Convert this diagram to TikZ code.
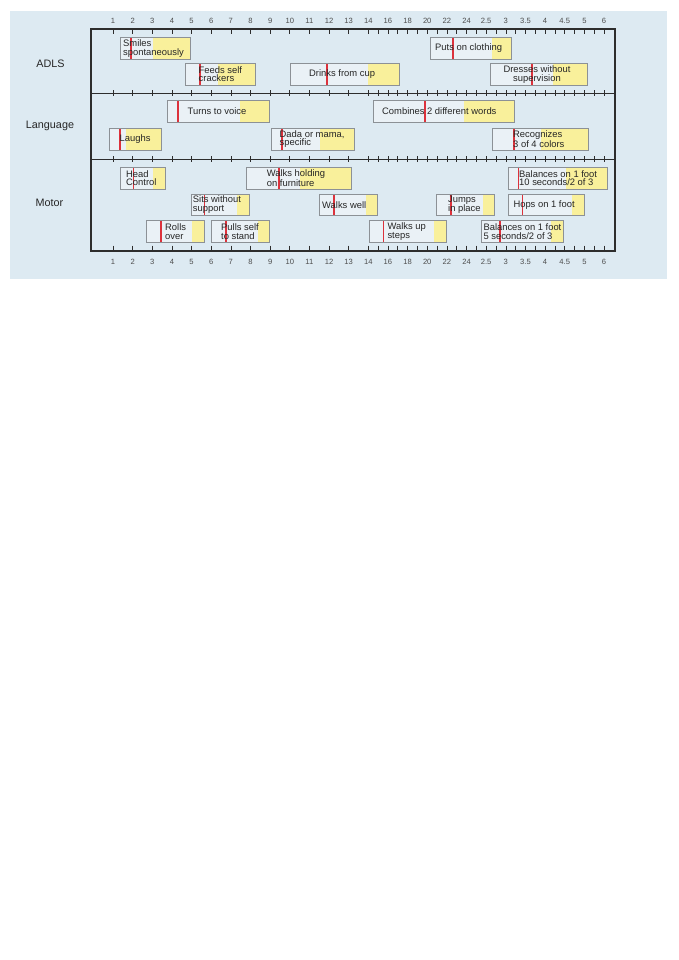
\documentclass[tikz,border=0pt]{standalone}
\usepackage{fontspec}
\setmainfont{Liberation Sans}
\definecolor{chartbg}{RGB}{221,234,242}
\definecolor{barbg}{RGB}{234,241,246}
\definecolor{baryellow}{RGB}{249,240,155}
\definecolor{barred}{RGB}{220,50,60}
\definecolor{bargray}{RGB}{140,145,150}
\definecolor{framegray}{RGB}{45,45,45}
\begin{document}
\begin{tikzpicture}[x=1pt,y=-1pt]
\tikzstyle{every node}+=[inner sep=0pt]
\tikzstyle{barbox}=[draw=bargray, line width=0.9pt]
\tikzstyle{redmark}=[draw=barred, line width=1.6pt]
\tikzstyle{bartext}=[anchor=west, align=left, text=black!85, font=\fontsize{9.4}{8.6}\selectfont]
\tikzstyle{rowlabel}=[text=black!85, font=\fontsize{10.8}{12}\selectfont]
\tikzstyle{ticklabel}=[text=black!70, font=\fontsize{7.6}{8}\selectfont]
\useasboundingbox (0,0) rectangle (678,960);
\fill [chartbg] (10,11) rectangle (667,279);
% frame and row lines
\draw [framegray, line width=0.8pt] (91,93.3) -- (615,93.3);
\draw [framegray, line width=0.8pt] (91,159) -- (615,159);
\foreach \i in {0,...,25} {
  \pgfmathsetmacro\tx{113+19.64*\i}
  \draw [framegray, line width=0.6pt] (\tx,29) -- (\tx,34);
  \draw [framegray, line width=0.6pt] (\tx,90.5) -- (\tx,96);
  \draw [framegray, line width=0.6pt] (\tx,156.2) -- (\tx,161.8);
  \draw [framegray, line width=0.6pt] (\tx,245.5) -- (\tx,251);
}
\foreach \i in {13,...,24} {
  \pgfmathsetmacro\tx{113+19.64*(\i+0.5)}
  \draw [framegray, line width=0.6pt] (\tx,29) -- (\tx,34);
  \draw [framegray, line width=0.6pt] (\tx,90.5) -- (\tx,96);
  \draw [framegray, line width=0.6pt] (\tx,156.2) -- (\tx,161.8);
  \draw [framegray, line width=0.6pt] (\tx,245.5) -- (\tx,251);
}
\foreach \lab [count=\i from 0] in {1,2,3,4,5,6,7,8,9,10,11,12,13,14,16,18,20,22,24,2.5,3,3.5,4,4.5,5,6} {
  \pgfmathsetmacro\tx{113+19.64*\i}
  \node [ticklabel] (top\i) at (\tx,21) {\lab};
  \node [ticklabel] (bot\i) at (\tx,262) {\lab};
}
\draw [framegray, line width=1.8pt] (91,29) rectangle (615,251);
% row labels
\node [rowlabel] (adls) at (50.5,64) {ADLS};
\node [rowlabel] (language) at (50,126) {Language};
\node [rowlabel] (motor) at (49.5,203) {Motor};
% ADLS
\fill [barbg] (120.7,37.5) rectangle (152.7,59.3);
\fill [baryellow] (152.7,37.5) rectangle (190.3,59.3);
\draw [redmark] (131,37.5) -- (131,59.3);
\draw [barbox] (120.7,37.5) rectangle (190.3,59.3);
\node [bartext] (smiles) at (123,48.4) {Smiles\\spontaneously};
\fill [barbg] (430.7,37.5) rectangle (492.3,59.3);
\fill [baryellow] (492.3,37.5) rectangle (511.7,59.3);
\draw [redmark] (453,37.5) -- (453,59.3);
\draw [barbox] (430.7,37.5) rectangle (511.7,59.3);
\node [bartext] (clothing) at (435,48.4) {Puts on clothing};
\fill [barbg] (185.7,63.3) rectangle (217.7,85.3);
\fill [baryellow] (217.7,63.3) rectangle (255.3,85.3);
\draw [redmark] (200,63.3) -- (200,85.3);
\draw [barbox] (185.7,63.3) rectangle (255.3,85.3);
\node [bartext] (feeds) at (198.5,74.3) {Feeds self\\crackers};
\fill [barbg] (290,63.3) rectangle (368.3,85.3);
\fill [baryellow] (368.3,63.3) rectangle (399,85.3);
\draw [redmark] (327,63.3) -- (327,85.3);
\draw [barbox] (290,63.3) rectangle (399,85.3);
\node [bartext] (cup) at (309,74.3) {Drinks from cup};
\fill [barbg] (490.3,63.3) rectangle (552.7,85.3);
\fill [baryellow] (552.7,63.3) rectangle (587.3,85.3);
\draw [redmark] (532,63.3) -- (532,85.3);
\draw [barbox] (490.3,63.3) rectangle (587.3,85.3);
\node [bartext, anchor=center, align=center] (dresses) at (537,74.3) {Dresses without\\supervision};
% Language
\fill [barbg] (167.7,100) rectangle (240,122);
\fill [baryellow] (240,100) rectangle (269.3,122);
\draw [redmark] (177.7,100) -- (177.7,122);
\draw [barbox] (167.7,100) rectangle (269.3,122);
\node [bartext] (voice) at (187.5,111) {Turns to voice};
\fill [barbg] (373.7,100) rectangle (464,122);
\fill [baryellow] (464,100) rectangle (514.3,122);
\draw [redmark] (425,100) -- (425,122);
\draw [barbox] (373.7,100) rectangle (514.3,122);
\node [bartext] (combines) at (382,111) {Combines 2 different words};
\fill [barbg] (109.3,128.3) rectangle (125.7,150);
\fill [baryellow] (125.7,128.3) rectangle (161,150);
\draw [redmark] (119.7,128.3) -- (119.7,150);
\draw [barbox] (109.3,128.3) rectangle (161,150);
\node [bartext] (laughs) at (119.5,139.2) {Laughs};
\fill [barbg] (271.7,128.3) rectangle (320,150);
\fill [baryellow] (320,128.3) rectangle (354,150);
\draw [redmark] (281.7,128.3) -- (281.7,150);
\draw [barbox] (271.7,128.3) rectangle (354,150);
\node [bartext] (dada) at (279.5,139.2) {Dada or mama,\\specific};
\fill [barbg] (492.3,128.3) rectangle (541,150);
\fill [baryellow] (541,128.3) rectangle (588.7,150);
\draw [redmark] (514,128.3) -- (514,150);
\draw [barbox] (492.3,128.3) rectangle (588.7,150);
\node [bartext] (colors) at (513,139.2) {Recognizes\\3 of 4 colors};
% Motor
\fill [barbg] (120,167) rectangle (152.7,189);
\fill [baryellow] (152.7,167) rectangle (165.7,189);
\draw [redmark] (133.3,167) -- (133.3,189);
\draw [barbox] (120,167) rectangle (165.7,189);
\node [bartext] (head) at (126,178) {Head\\Control};
\fill [barbg] (246,167) rectangle (300,189);
\fill [baryellow] (300,167) rectangle (351.7,189);
\draw [redmark] (279,167) -- (279,189);
\draw [barbox] (246,167) rectangle (351.7,189);
\node [bartext] (furniture) at (266.7,178) {Walks holding\\on furniture};
\fill [barbg] (508.3,167) rectangle (566,189);
\fill [baryellow] (566,167) rectangle (607.3,189);
\draw [redmark] (518.3,167) -- (518.3,189);
\draw [barbox] (508.3,167) rectangle (607.3,189);
\node [bartext] (balten) at (519,178) {Balances on 1 foot\\10 seconds/2 of 3};
\fill [barbg] (191,194) rectangle (236.7,215.3);
\fill [baryellow] (236.7,194) rectangle (249,215.3);
\draw [redmark] (204.3,194) -- (204.3,215.3);
\draw [barbox] (191,194) rectangle (249,215.3);
\node [bartext] (sits) at (192.7,204.7) {Sits without\\support};
\fill [barbg] (319.3,194) rectangle (365.7,215.3);
\fill [baryellow] (365.7,194) rectangle (377.7,215.3);
\draw [redmark] (334,194) -- (334,215.3);
\draw [barbox] (319.3,194) rectangle (377.7,215.3);
\node [bartext] (walkswell) at (322,204.7) {Walks well};
\fill [barbg] (436,194) rectangle (482.7,215.3);
\fill [baryellow] (482.7,194) rectangle (494.3,215.3);
\draw [redmark] (450.7,194) -- (450.7,215.3);
\draw [barbox] (436,194) rectangle (494.3,215.3);
\node [bartext] (jumps) at (448,204.7) {Jumps\\in place};
\fill [barbg] (508.3,194) rectangle (572.3,215.3);
\fill [baryellow] (572.3,194) rectangle (584.7,215.3);
\draw [redmark] (522.3,194) -- (522.3,215.3);
\draw [barbox] (508.3,194) rectangle (584.7,215.3);
\node [bartext] (hops) at (513.3,204.7) {Hops on 1 foot};
\fill [barbg] (146.7,220.7) rectangle (192.3,242.3);
\fill [baryellow] (192.3,220.7) rectangle (204.3,242.3);
\draw [redmark] (160.7,220.7) -- (160.7,242.3);
\draw [barbox] (146.7,220.7) rectangle (204.3,242.3);
\node [bartext] (rolls) at (165,231.5) {Rolls\\over};
\fill [barbg] (211.7,220.7) rectangle (257.7,242.3);
\fill [baryellow] (257.7,220.7) rectangle (269.3,242.3);
\draw [redmark] (225.7,220.7) -- (225.7,242.3);
\draw [barbox] (211.7,220.7) rectangle (269.3,242.3);
\node [bartext] (pulls) at (221,231.5) {Pulls self\\to stand};
\fill [barbg] (369.3,220.7) rectangle (434,242.3);
\fill [baryellow] (434,220.7) rectangle (446,242.3);
\draw [redmark] (383.3,220.7) -- (383.3,242.3);
\draw [barbox] (369.3,220.7) rectangle (446,242.3);
\node [bartext] (steps) at (387.3,231.5) {Walks up\\steps};
\fill [barbg] (481.7,220.7) rectangle (551,242.3);
\fill [baryellow] (551,220.7) rectangle (563.3,242.3);
\draw [redmark] (500,220.7) -- (500,242.3);
\draw [barbox] (481.7,220.7) rectangle (563.3,242.3);
\node [bartext] (balfive) at (483.3,231.5) {Balances on 1 foot\\5 seconds/2 of 3};
\end{tikzpicture}
\end{document}
